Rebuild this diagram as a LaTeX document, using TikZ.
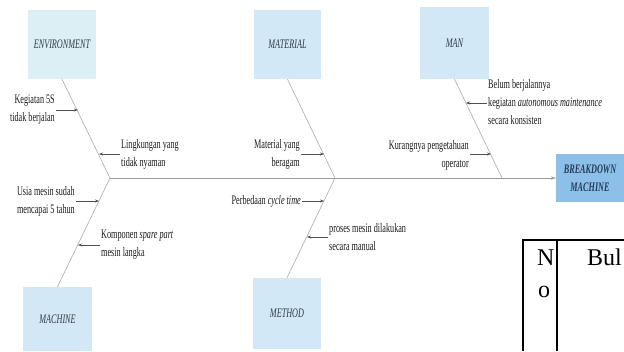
\documentclass[tikz,border=0pt]{standalone}
\usepackage{fontspec}
\setmainfont{Liberation Serif}
\newfontfamily\cond[FakeStretch=0.63]{Liberation Serif}
\usetikzlibrary{arrows.meta}
\definecolor{envcol}{HTML}{DCEFF5}
\definecolor{catcol}{HTML}{D2E8F6}
\definecolor{brkcol}{HTML}{8DC0E8}
\definecolor{labcol}{HTML}{2E3B48}
\definecolor{brktext}{HTML}{243A58}
\definecolor{bonecol}{HTML}{ABABAB}
\definecolor{arrcol}{HTML}{505050}
\tikzset{
  catbox/.style={fill=catcol, draw=none, inner sep=0pt, font=\cond\fontsize{13}{15}\selectfont\itshape, text=labcol},
  causetext/.style={font=\cond\fontsize{13}{18}\selectfont, text=black!90, inner sep=1pt},
  bone/.style={draw=bonecol, line width=0.6pt},
  subarrow/.style={draw=arrcol, line width=0.6pt, -{Stealth[length=4pt,width=3pt]}},
  tabtext/.style={font=\fontsize{24}{24}\selectfont, inner sep=0pt, anchor=base west}
}
\begin{document}
\begin{tikzpicture}[x=1pt,y=-1pt]
\useasboundingbox (0,0) rectangle (624,351);
% category boxes
\node[catbox, fill=envcol, minimum width=68pt, minimum height=69pt] (env) at (62,44.5) {ENVIRONMENT};
\node[catbox, minimum width=67pt, minimum height=69pt] (mat) at (287.5,44.5) {MATERIAL};
\node[catbox, minimum width=69pt, minimum height=72pt] (man) at (454.5,43) {MAN};
\node[catbox, minimum width=69pt, minimum height=64pt] (mach) at (57.5,319) {MACHINE};
\node[catbox, minimum width=68pt, minimum height=71pt] (meth) at (287,313.5) {METHOD};
\node[catbox, fill=brkcol, text=brktext, font=\cond\fontsize{13}{18}\selectfont\itshape\bfseries, align=center, minimum width=68pt, minimum height=48pt] (brk) at (590,178) {BREAKDOWN\\MACHINE};
% vertices on spine
\coordinate (v1) at (110,178);
\coordinate (v2) at (335,178);
\coordinate (v3) at (502,178);
% spine and bones
\draw[bone, -{Stealth[length=5pt,width=3.5pt]}, draw=bonecol!90!black] (v1) -- (brk.west);
\draw[bone] (env.south) -- (v1);
\draw[bone] (mach.north) -- (v1);
\draw[bone] (mat.south) -- (v2);
\draw[bone] (meth.north) -- (v2);
\draw[bone] (man.south) -- (v3);
% arrow tips on bones
\coordinate (a1) at (78,110);
\coordinate (a2) at (99,154);
\coordinate (a3) at (99,201);
\coordinate (a4) at (78,245);
\coordinate (a5) at (324,154);
\coordinate (a6) at (324,201);
\coordinate (a7) at (307,237);
\coordinate (a8) at (466,103);
\coordinate (a9) at (491,154);
% cause texts
\node[causetext, align=right, anchor=east] (t1) at (56,110) {Kegiatan 5S\\tidak berjalan};
\node[causetext, align=left, anchor=west] (t2) at (120,154) {Lingkungan yang\\tidak nyaman};
\node[causetext, align=right, anchor=east] (t3) at (76,201) {Usia mesin sudah\\mencapai 5 tahun};
\node[causetext, align=left, anchor=west] (t4) at (100,245) {Komponen \textit{spare part}\\mesin langka};
\node[causetext, align=right, anchor=east] (t5) at (301,154) {Material yang\\beragam};
\node[causetext, align=right, anchor=east] (t6) at (302,201) {Perbedaan \textit{cycle time}};
\node[causetext, align=left, anchor=west] (t7) at (328,237) {proses mesin dilakukan\\secara manual};
\node[causetext, align=left, anchor=west] (t8) at (487,102) {Belum berjalannya\\kegiatan \textit{autonomous maintenance}\\secara konsisten};
\node[causetext, align=right, anchor=east] (t9) at (470,155) {Kurangnya pengetahuan\\operator};
% sub-cause arrows
\draw[subarrow] (t1.east |- a1) -- (a1);
\draw[subarrow] (t2.west |- a2) -- (a2);
\draw[subarrow] (t3.east |- a3) -- (a3);
\draw[subarrow] (t4.west |- a4) -- (a4);
\draw[subarrow] (t5.east |- a5) -- (a5);
\draw[subarrow] (t6.east |- a6) -- (a6);
\draw[subarrow] (t7.west |- a7) -- (a7);
\draw[subarrow] (t8.west |- a8) -- (a8);
\draw[subarrow] (t9.east |- a9) -- (a9);
% table fragment
\coordinate (tl) at (523,240);
\coordinate (tm) at (557,240);
\draw[line width=1.4pt] (624,240) -- (tl) -- (523,351);
\draw[line width=1.4pt] (tm) -- (557,351);
\node[tabtext] (n1) at (537,265) {N};
\node[tabtext] (n2) at (538,297) {o};
\node[tabtext] (n3) at (587,265) {Bul};
\end{tikzpicture}
\end{document}
